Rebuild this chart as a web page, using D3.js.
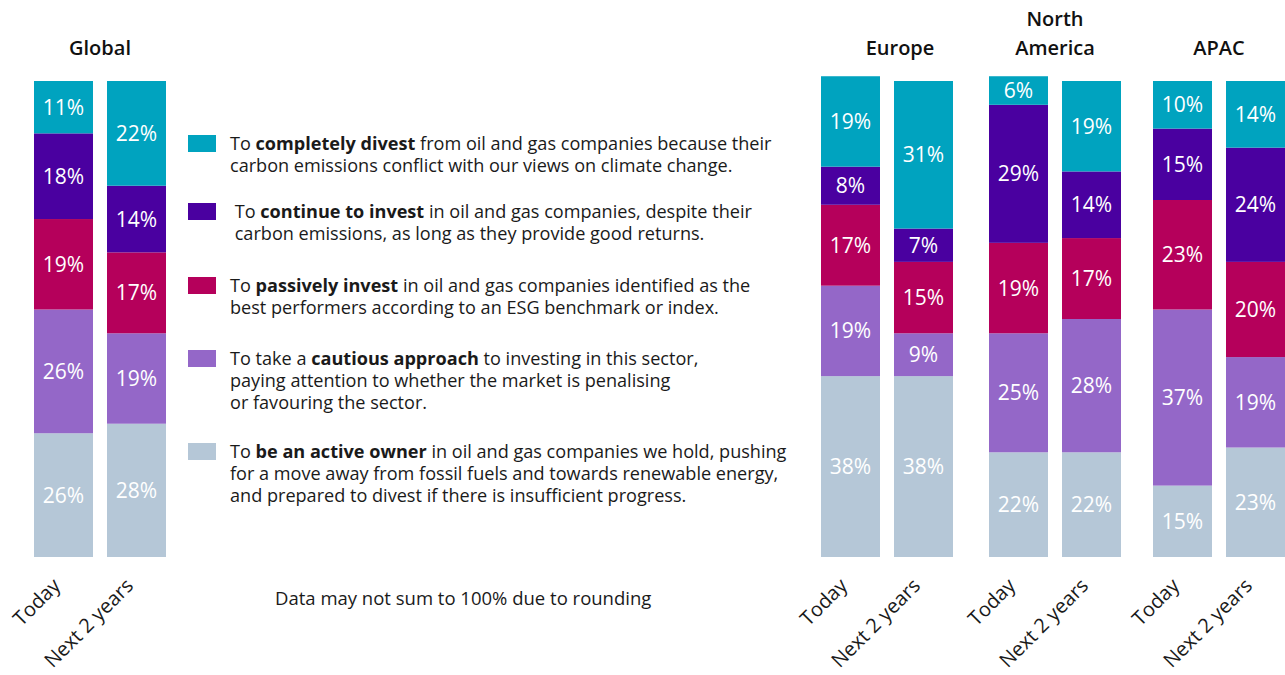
<html lang="en">
    <head>
        <meta charset="utf-8">
        <title>Oil and gas investment approach</title>
        <script type="text/javascript" src="https://d3js.org/d3.v7.min.js"></script>
        <style>
            body { margin: 0; background: #ffffff; }
            text { font-family: "Open Sans", "Noto Sans", sans-serif; }
        </style>
    </head>
    <body>
        <div id="chart"></div>
        <script type="text/javascript">
            // data
            const groups = ["Global", "Europe", "North America", "APAC"];
            const periods = ["Today", "Next 2 years"];
            // one value per bar: Global today, Global next, Europe today, Europe next, NA today, NA next, APAC today, APAC next
            const divest         = [11, 22, 19, 31,  6, 19, 10, 14];
            const continueInvest = [18, 14,  8,  7, 29, 14, 15, 24];
            const passive        = [19, 17, 17, 15, 19, 17, 23, 20];
            const cautious       = [26, 19, 19,  9, 25, 28, 37, 19];
            const activeOwner    = [26, 28, 38, 38, 22, 22, 15, 23];
            const seriesKeys = ["activeOwner", "cautious", "passive", "continueInvest", "divest"];
            const legendLines = [
                [[["To ", false], ["completely divest", true], [" from oil and gas companies because their", false]],
                 [["carbon emissions conflict with our views on climate change.", false]]],
                [[[" To ", false], ["continue to invest", true], [" in oil and gas companies, despite their", false]],
                 [[" carbon emissions, as long as they provide good returns.", false]]],
                [[["To ", false], ["passively invest", true], [" in oil and gas companies identified as the", false]],
                 [["best performers according to an ESG benchmark or index.", false]]],
                [[["To take a ", false], ["cautious approach", true], [" to investing in this sector,", false]],
                 [["paying attention to whether the market is penalising", false]],
                 [["or favouring the sector.", false]]],
                [[["To ", false], ["be an active owner", true], [" in oil and gas companies we hold, pushing", false]],
                 [["for a move away from fossil fuels and towards renewable energy,", false]],
                 [["and prepared to divest if there is insufficient progress.", false]]]
            ];
            const legendKeys = ["divest", "continueInvest", "passive", "cautious", "activeOwner"];
            const note = "Data may not sum to 100% due to rounding";

            const width = 1285, height = 675;
            const colors = {
                divest: "#00a3bf",
                continueInvest: "#4a00a0",
                passive: "#b5005b",
                cautious: "#9467c8",
                activeOwner: "#b5c7d7"
            };

            const rows = [];
            groups.forEach((g, gi) => periods.forEach((p, pi) => {
                const i = gi * 2 + pi;
                rows.push({group: g, period: p, divest: divest[i], continueInvest: continueInvest[i],
                    passive: passive[i], cautious: cautious[i], activeOwner: activeOwner[i]});
            }));

            const svg = d3.select("#chart").append("svg").attr("width", width).attr("height", height);

            const groupX = d3.scaleOrdinal().domain(groups).range([34, 821, 989, 1153]);
            const xBand = d3.scaleBand().domain(periods).range([0, 132]).paddingInner(0.192).paddingOuter(0);
            const yScale = d3.scaleLinear().domain([0, 100]).range([557, 81]);
            const barX = d => groupX(d.group) + xBand(d.period);

            const stacked = d3.stack().keys(seriesKeys)(rows);

            // stacked bars
            const layer = svg.append("g").selectAll("g").data(stacked).join("g")
                .attr("fill", s => colors[s.key]);
            layer.selectAll("rect").data(s => s).join("rect")
                .attr("x", d => barX(d.data))
                .attr("width", xBand.bandwidth())
                .attr("y", d => yScale(d[1]))
                .attr("height", d => yScale(d[0]) - yScale(d[1]));
            // value labels
            layer.selectAll("text").data(s => s.map(d => ({d: d, key: s.key}))).join("text")
                .attr("x", e => barX(e.d.data) + xBand.bandwidth() / 2)
                .attr("y", e => (yScale(e.d[0]) + yScale(e.d[1])) / 2)
                .attr("dy", "0.36em")
                .attr("text-anchor", "middle")
                .attr("fill", "#ffffff")
                .attr("font-size", "21px")
                .text(e => e.d.data[e.key] + "%");

            // group titles
            const titleDx = [0, 13, 0, 0];
            groups.forEach((g, gi) => {
                const cx = groupX(g) + 66 + titleDx[gi];
                const words = g === "North America" ? ["North", "America"] : [g];
                words.forEach((w, wi) => {
                    svg.append("text")
                        .attr("x", cx)
                        .attr("y", 55 - (words.length - 1 - wi) * 29)
                        .attr("text-anchor", "middle")
                        .attr("font-size", "20px")
                        .attr("font-weight", 600)
                        .attr("fill", "#111111")
                        .text(w);
                });
            });

            // rotated period labels
            svg.append("g").selectAll("text").data(rows).join("text")
                .attr("text-anchor", "end")
                .attr("font-size", "20px")
                .attr("fill", "#1a1a1a")
                .attr("transform", d => `translate(${barX(d) + xBand.bandwidth() / 2 - 2},587) rotate(-45)`)
                .text(d => d.period);

            // legend
            const legendY = [150, 218, 292, 365, 458];
            const legend = svg.append("g");
            legendLines.forEach((lines, li) => {
                legend.append("rect")
                    .attr("x", 188).attr("y", legendY[li] - 15)
                    .attr("width", 28).attr("height", 17)
                    .attr("fill", colors[legendKeys[li]]);
                const t = legend.append("text")
                    .attr("x", 230).attr("y", legendY[li])
                    .attr("font-size", "18.1px")
                    .attr("fill", "#1a1a1a")
                    .attr("xml:space", "preserve")
                    .style("white-space", "pre");
                lines.forEach((parts, pi) => {
                    parts.forEach((part, k) => {
                        const ts = t.append("tspan").text(part[0])
                            .attr("font-weight", part[1] ? 700 : 400);
                        if (k === 0) ts.attr("x", 230).attr("y", legendY[li] + pi * 22);
                    });
                });
            });

            svg.append("text")
                .attr("x", 275).attr("y", 605)
                .attr("font-size", "18.5px")
                .attr("fill", "#1a1a1a")
                .text(note);
        </script>
    </body>
</html>
